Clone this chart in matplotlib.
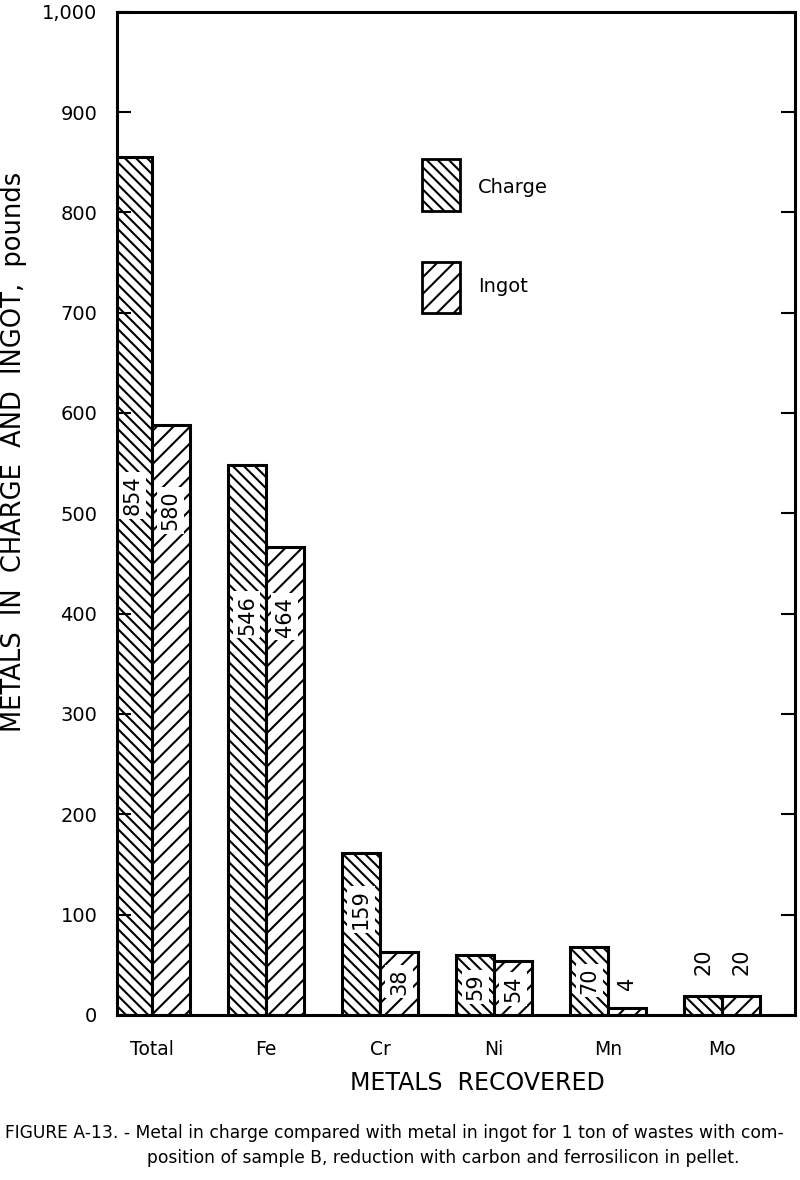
import matplotlib
matplotlib.use('Agg')
import matplotlib.pyplot as plt
from matplotlib.patches import Rectangle
import numpy as np

# data ----------------------------------------------------------------------------------------------------------
metals = ['Total', 'Fe', 'Cr', 'Ni', 'Mn', 'Mo']
charge = [855, 548, 161, 60, 68, 19]          # bar heights
ingot = [588, 466, 63, 54, 7, 19]
charge_labels = ['854', '546', '159', '59', '70', '20']   # numbers printed on the bars
ingot_labels = ['580', '464', '38', '54', '4', '20']
yticks = [0, 100, 200, 300, 400, 500, 600, 700, 800, 900, 1000]
ytick_labels = ['0', '100', '200', '300', '400', '500', '600', '700', '800', '900', '1,000']

# where the printed numbers sit (layout only)
charge_label_y = [518, 399, 105, 28, 34, 53]
ingot_label_y = [503, 397, 33, 26, 31, 53]
boxed = [True, True, True, True, True, False]
ingot_boxed = [True, True, True, True, False, False]

# plot ----------------------------------------------------------------------------------------------------------
plt.rcParams['font.family'] = ['DejaVu Sans']
plt.rcParams['hatch.linewidth'] = 1.5

fig = plt.figure(figsize=(8, 11.8), dpi=100)
ax = fig.add_axes([0.146, 0.140, 0.848, 0.850])

x = np.arange(len(metals))
w = 0.333
charge_hatch = '\\\\\\'
ingot_hatch = '//'
ax.bar(x - w/2, charge, w, facecolor='white', edgecolor='black', linewidth=2.2, hatch=charge_hatch)
ax.bar(x + w/2, ingot, w, facecolor='white', edgecolor='black', linewidth=2.2, hatch=ingot_hatch)

box = dict(facecolor='white', edgecolor='none', pad=2.5)
for i in range(len(metals)):
    ax.text(x[i] - w/2, charge_label_y[i], charge_labels[i], rotation=90, ha='center', va='center',
            fontsize=15, bbox=box if boxed[i] else None)
    ax.text(x[i] + w/2, ingot_label_y[i], ingot_labels[i], rotation=90, ha='center', va='center',
            fontsize=15, bbox=box if ingot_boxed[i] else None)

ax.set_xlim(-0.307, 5.64)
ax.set_ylim(0, 1000)
ax.set_xticks(x)
ax.set_xticklabels(metals, fontsize=13.5)
ax.tick_params(axis='x', length=0, pad=18)
ax.set_yticks(yticks)
ax.set_yticklabels(ytick_labels, fontsize=14)
ax.tick_params(axis='y', direction='in', length=10, width=1.5, right=True, pad=14)
for s in ax.spines.values():
    s.set_linewidth(2.2)

# legend boxes drawn by hand
ax.add_patch(Rectangle((0.45, 0.801), 0.056, 0.052, transform=ax.transAxes, facecolor='white',
                       edgecolor='black', linewidth=2, hatch=charge_hatch))
ax.add_patch(Rectangle((0.45, 0.700), 0.056, 0.051, transform=ax.transAxes, facecolor='white',
                       edgecolor='black', linewidth=2, hatch=ingot_hatch))
ax.text(0.532, 0.8245, 'Charge', transform=ax.transAxes, fontsize=14, va='center')
ax.text(0.532, 0.726, 'Ingot', transform=ax.transAxes, fontsize=14, va='center')

fig.text(477/800, 1 - 1083/1180, 'METALS  RECOVERED', fontsize=17, ha='center', va='center')
fig.text(14/800, 1 - 452/1180, 'METALS  IN  CHARGE  AND  INGOT,  pounds', fontsize=18.5,
         rotation=90, ha='center', va='center')

fig.text(5/800, 1 - 1133/1180,
         'FIGURE A-13. - Metal in charge compared with metal in ingot for 1 ton of wastes with com-',
         fontsize=12.3, va='center')
fig.text(147/800, 1 - 1158/1180,
         'position of sample B, reduction with carbon and ferrosilicon in pellet.',
         fontsize=12.3, va='center')

plt.savefig('out.png', dpi=100)
